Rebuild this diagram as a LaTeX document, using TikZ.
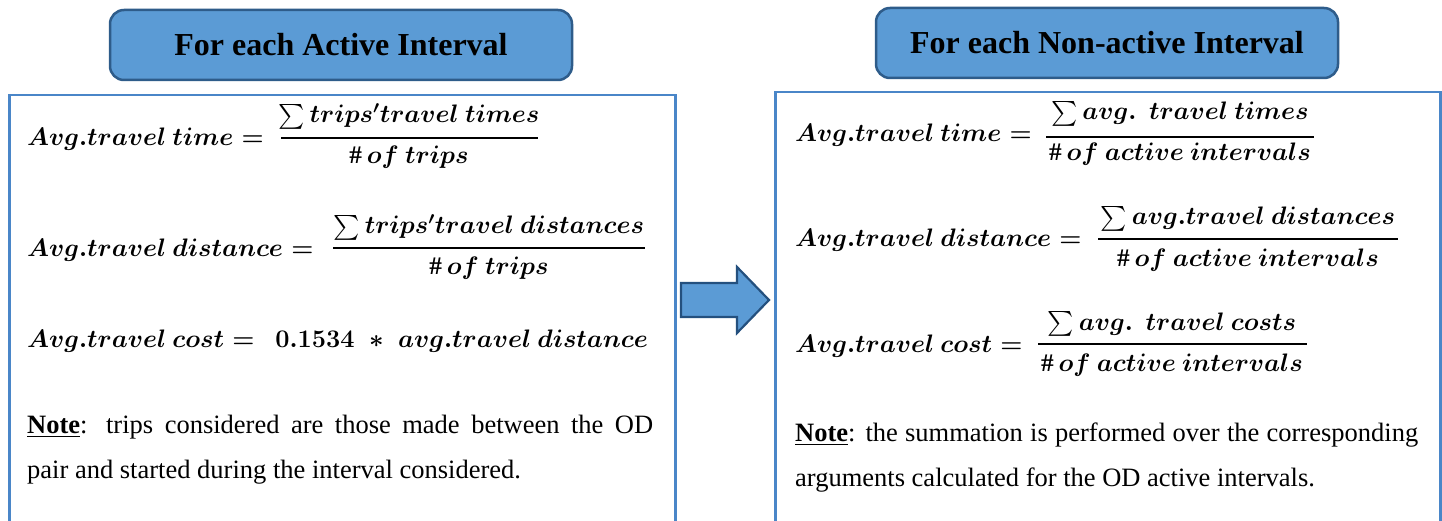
\RequirePackage{fix-cm}
\documentclass[tikz,border=0pt]{standalone}
\usepackage{amsmath}
\usepackage{fontspec}
\setmainfont{Liberation Serif}
\definecolor{tfill}{HTML}{5B9BD5}
\definecolor{tborder}{HTML}{2E5C8A}
\definecolor{cborder}{HTML}{4A86C8}
\definecolor{aborder}{HTML}{24507E}
\tikzset{
  titlebox/.style={draw=tborder, line width=2.5pt, fill=tfill, rounded corners=14pt,
    minimum width=462pt, minimum height=70pt, inner sep=0pt,
    font=\fontsize{32}{36}\selectfont\bfseries},
  contentbox/.style={draw=cborder, line width=2.5pt, fill=white, anchor=north west,
    minimum width=666pt, minimum height=460pt, inner sep=0pt},
  lab/.style={anchor=base west, inner sep=0pt, font=\fontsize{25.3}{30}\selectfont\boldmath},
  fracpart/.style={anchor=base, inner sep=0pt, font=\fontsize{25.3}{30}\selectfont\boldmath},
  fracbar/.style={line width=1.4pt, black},
  note/.style={anchor=base west, inner sep=0pt},
  blockarrow/.style={draw=aborder, line width=2.2pt, fill=tfill, line join=miter}
}
\newcommand{\notepar}[2]{\parbox[t]{#1}{\fontsize{26.5}{45}\selectfont #2}}
\begin{document}
\begin{tikzpicture}[x=1pt, y=-1pt]
\clip (0,0) rectangle (1442,521);
\fill[white] (0,0) rectangle (1442,521);
% content boxes
\node[contentbox] (lbox) at (8,94) {};
\node[contentbox, minimum width=665pt] (rbox) at (774,91) {};
% title boxes
\node[titlebox] (ltitle) at (341,45) {For each Active Interval};
\node[titlebox] (rtitle) at (1107,43) {For each Non-active Interval};
% block arrow
\draw[blockarrow] (681,283) -- (737,283) -- (737,267) -- (769,300) -- (737,333) -- (737,317) -- (681,317) -- cycle;
% ---------- left formulas
\node[lab] (l1) at (27,146) {$Avg.travel\ time=$};
\node[fracpart] (l1n) at (409,123) {$\textstyle\sum trips'travel\ times$};
\draw[fracbar] (281,138) -- (538,138);
\node[fracpart] (l1d) at (409,164) {$\#\,of\ trips$};

\node[lab] (l2) at (27,257) {$Avg.travel\ distance=$};
\node[fracpart] (l2n) at (489,234) {$\textstyle\sum trips'travel\ distances$};
\draw[fracbar] (333,248) -- (645,248);
\node[fracpart] (l2d) at (489,275) {$\#\,of\ trips$};

\node[lab] (l3) at (27,347) {$Avg.travel\ cost=\ \ \mathbf{0.1534}\;*\;avg.travel\ distance$};

\node[note] (lnote) at (27,433) {\notepar{626pt}{\underline{\textbf{Note}}: trips considered are those made between the OD\linebreak pair and started during the interval considered.}};
% ---------- right formulas
\node[lab] (r1) at (795,142) {$Avg.travel\ time=$};
\node[fracpart] (r1n) at (1180,120) {$\textstyle\sum avg.\ \ travel\ times$};
\draw[fracbar] (1046,137) -- (1314,137);
\node[fracpart] (r1d) at (1180,161) {$\#\,of\ active\ intervals$};

\node[lab] (r2) at (795,247) {$Avg.travel\ distance=$};
\node[fracpart] (r2n) at (1248,225) {$\textstyle\sum avg.travel\ distances$};
\draw[fracbar] (1098,239) -- (1398,239);
\node[fracpart] (r2d) at (1248,266) {$\#\,of\ active\ intervals$};

\node[lab] (r3) at (795,352) {$Avg.travel\ cost=$};
\node[fracpart] (r3n) at (1172,330) {$\textstyle\sum avg.\ \ travel\ costs$};
\draw[fracbar] (1038,344) -- (1307,344);
\node[fracpart] (r3d) at (1172,371) {$\#\,of\ active\ intervals$};

\node[note] (rnote) at (795,441) {\notepar{623pt}{\underline{\textbf{Note}}: the summation is performed over the corresponding\linebreak arguments calculated for the OD active intervals.}};
\end{tikzpicture}
\end{document}
